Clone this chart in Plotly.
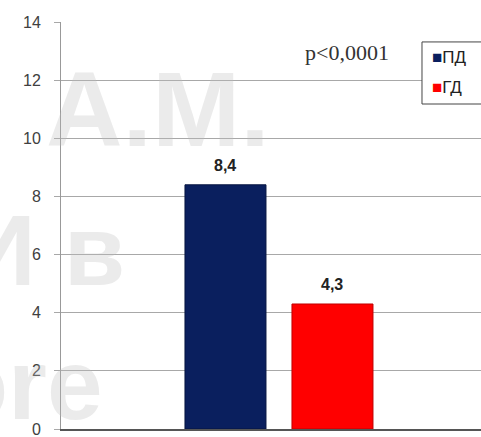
import plotly.graph_objects as go

# Данные с диаграммы
groups = ["ПД", "ГД"]
values = [8.4, 4.3]
colors = ["#0a1f5e", "#ff0000"]
edge_colors = ["#061540", "#c00000"]
p_text = "p<0,0001"
y_ticks = [0, 2, 4, 6, 8, 10, 12, 14]

fig = go.Figure()

for g, v, c, e in zip(groups, values, colors, edge_colors):
    fig.add_trace(go.Bar(
        x=[g], y=[v], name=g,
        marker=dict(color=c, line=dict(color=e, width=1)),
        width=0.757,
        showlegend=False,
    ))
    # подпись значения над столбцом
    fig.add_annotation(
        x=g, y=v, text="<b>%s</b>" % str(v).replace(".", ","),
        showarrow=False, yanchor="bottom", yshift=9,
        font=dict(family="Arial", size=16, color="#222222"),
    )

# водяной знак
wm = [("А.М.", -0.04, 0.936, "left", "top", 106),
      ("И в", 0.158, 0.44, "right", "middle", 100),
      ("ore", 0.105, -0.033, "right", "bottom", 100)]
for txt, x, y, xa, ya, sz in wm:
    fig.add_annotation(
        x=x, y=y, xref="paper", yref="paper", text="<b>%s</b>" % txt,
        showarrow=False, xanchor=xa, yanchor=ya,
        font=dict(family="Arial", size=sz, color="rgba(190,190,190,0.3)"),
    )

fig.add_annotation(
    x=0.682, y=0.926, xref="paper", yref="paper", text=p_text,
    xanchor="center", yanchor="middle",
    showarrow=False, font=dict(family="Liberation Serif", size=22, color="#333333"),
)

# легенда вручную
fig.add_shape(type="rect", xref="paper", yref="paper",
              x0=0.8595, x1=1.06, y0=0.7985, y1=0.951,
              line=dict(color="#444444", width=1), fillcolor="white")
for g, c, yy in zip(groups, colors, [0.914, 0.838]):
    fig.add_annotation(
        x=0.8786, y=yy, xref="paper", yref="paper", xanchor="left", yanchor="middle",
        text="<span style='color:%s'>■</span>%s" % (c, g),
        showarrow=False, font=dict(family="Arial", size=17, color="#222222"),
    )

fig.update_layout(
    width=481, height=437,
    margin=dict(l=61, r=0, t=22, b=8),
    paper_bgcolor="white", plot_bgcolor="white",
    barmode="overlay",
)
fig.update_xaxes(
    type="category", categoryarray=groups, range=[-1.537, 2.388],
    showticklabels=False, showgrid=False, ticks="",
    showline=True, linecolor="#555555", linewidth=1.5,
)
fig.update_yaxes(
    range=[0, 14], tickvals=y_ticks, showgrid=True,
    gridcolor="#a8a8a8", gridwidth=1.2, zeroline=False,
    showline=True, linecolor="#999999", linewidth=1,
    ticks="outside", ticklen=6, tickcolor="#a8a8a8",
    ticklabelstandoff=10, ticklabeloverflow="allow",
    tickfont=dict(family="Arial", size=16, color="#404040"),
)

fig.write_html("out.html", config={"displayModeBar": False},
               post_script="document.body.style.margin='0';")
